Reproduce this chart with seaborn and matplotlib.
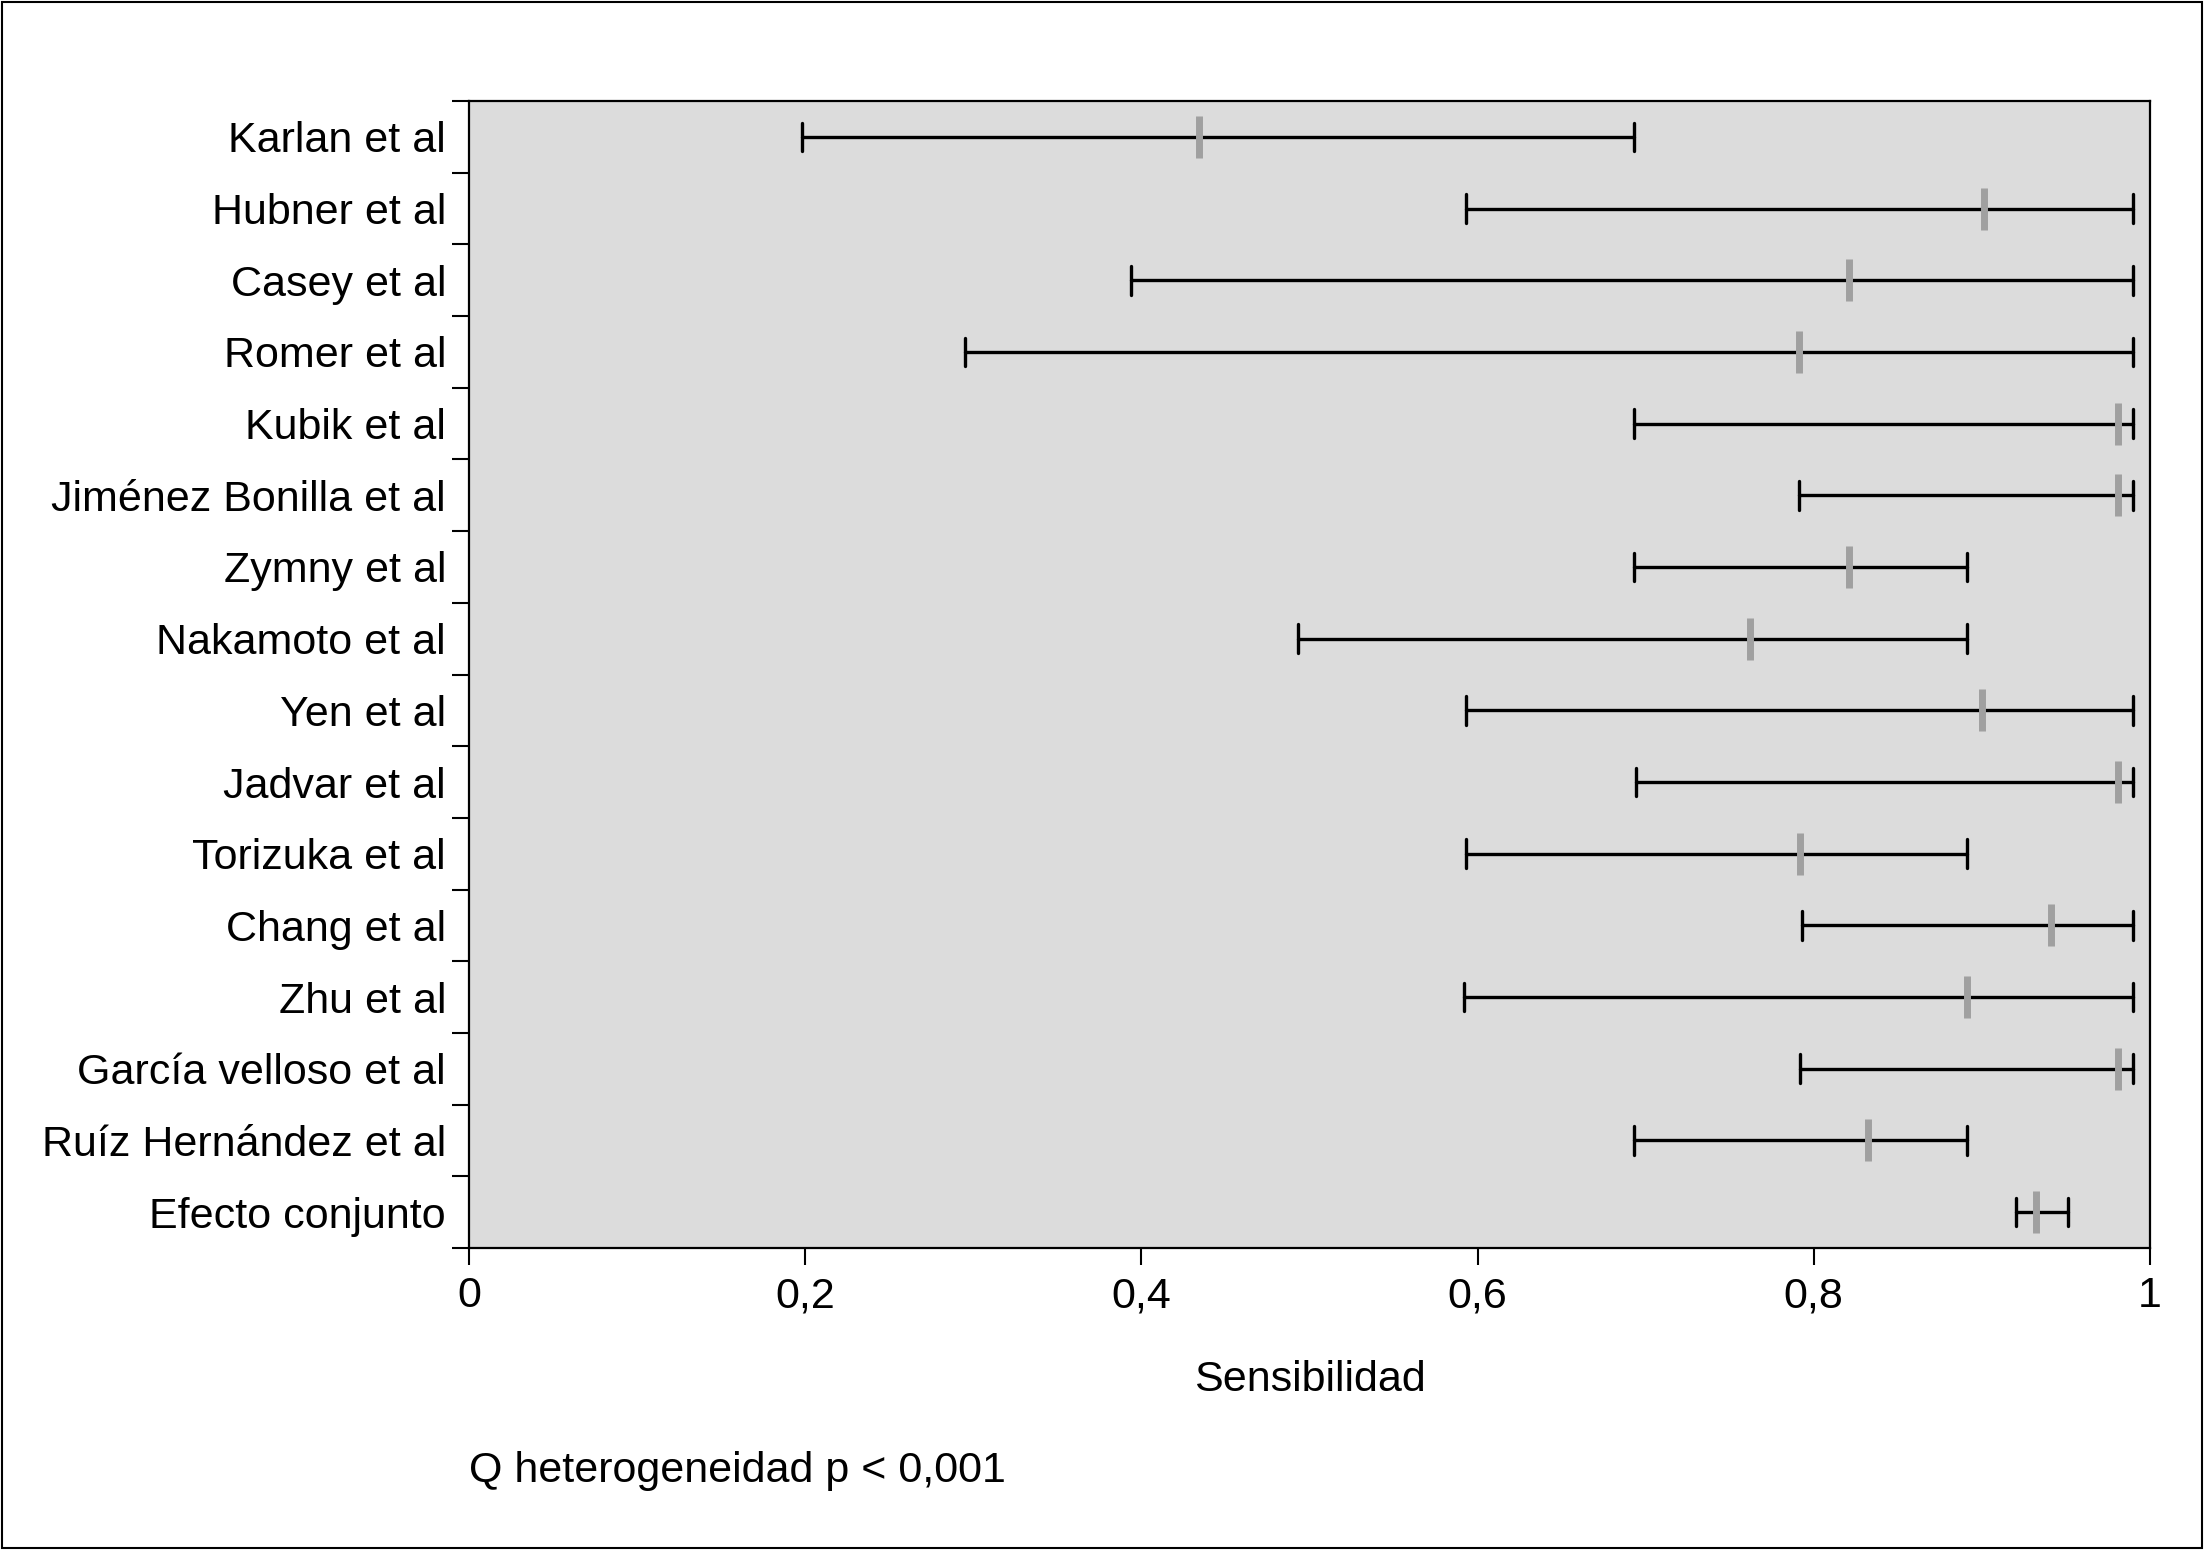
import numpy as np
import pandas as pd
import matplotlib.pyplot as plt
import seaborn as sns

# Data (sensitivity with 95% CI)
studies = ['Karlan et al', 'Hubner et al', 'Casey et al', 'Romer et al', 'Kubik et al',
           'Jiménez Bonilla et al', 'Zymny et al', 'Nakamoto et al', 'Yen et al',
           'Jadvar et al', 'Torizuka et al', 'Chang et al', 'Zhu et al',
           'García velloso et al', 'Ruíz Hernández et al', 'Efecto conjunto']
low = [0.198, 0.593, 0.394, 0.295, 0.693, 0.791, 0.693, 0.493, 0.593, 0.694,
       0.593, 0.793, 0.592, 0.792, 0.693, 0.920]
est = [0.434, 0.901, 0.821, 0.791, 0.981, 0.981, 0.821, 0.762, 0.900, 0.981,
       0.792, 0.941, 0.891, 0.981, 0.832, 0.932]
high = [0.693, 0.990, 0.990, 0.990, 0.990, 0.990, 0.891, 0.891, 0.990, 0.990,
        0.891, 0.990, 0.990, 0.990, 0.891, 0.951]

xticks = [0, 0.2, 0.4, 0.6, 0.8, 1]
xticklabels = ['0', '0,2', '0,4', '0,6', '0,8', '1']

sns.set_theme(style='ticks')
plt.rcParams['font.family'] = ['Liberation Sans', 'DejaVu Sans']

# long format: low / estimate / high for every study
df = pd.DataFrame({
    'Estudio': np.repeat(studies, 3),
    'Sensibilidad': np.column_stack([low, est, high]).ravel(),
})

fig = plt.figure(figsize=(22.05, 15.51), dpi=100)
ax = fig.add_axes([469 / 2205, 1 - 1248 / 1551, 1681 / 2205, 1147 / 1551])
ax.set_facecolor('#dcdcdc')

# Confidence intervals (black whiskers with caps)
sns.pointplot(data=df, x='Sensibilidad', y='Estudio', order=studies,
              estimator='median', errorbar=lambda v: (v.min(), v.max()),
              color='black', marker='', linestyle='none', capsize=0.4,
              err_kws={'linewidth': 2.4}, ax=ax)

# Point estimates (grey vertical ticks)
sns.scatterplot(x=est, y=np.arange(len(studies)), marker='|', s=880,
                linewidth=5, color='#a0a0a0', zorder=5, legend=False, ax=ax)

ax.set_xlim(0, 1)
ax.set_ylim(len(studies) - 0.5, -0.5)
ax.set_xticks(xticks)
ax.set_xticklabels(xticklabels)
ax.set_yticks(np.arange(len(studies)))
ax.set_yticklabels(studies)
ax.set_yticks(np.arange(-0.5, len(studies)), minor=True)
ax.grid(False)

ax.tick_params(axis='x', which='major', length=12, width=1.5, pad=8.5,
               labelsize=31, color='black', labelcolor='black')
ax.tick_params(axis='y', which='major', length=0, pad=16.5,
               labelsize=31, labelcolor='black')
ax.tick_params(axis='y', which='minor', length=12, width=1.5, color='black')

for side in ['top', 'bottom', 'left', 'right']:
    ax.spines[side].set_visible(True)
    ax.spines[side].set_color('black')
    ax.spines[side].set_linewidth(1.6)

ax.set_xlabel('Sensibilidad', fontsize=31, labelpad=31, color='black')
ax.set_ylabel('')

fig.text(469 / 2205, 1 - 1482 / 1551, 'Q heterogeneidad p < 0,001',
         fontsize=31, ha='left', va='baseline', color='black')

# outer frame around the whole figure
fig.add_artist(plt.Rectangle((2 / 2205, 3 / 1551), 2200 / 2205, 1546 / 1551,
                             fill=False, edgecolor='black', linewidth=1.5,
                             transform=fig.transFigure))

fig.savefig('out.png', dpi=100)
